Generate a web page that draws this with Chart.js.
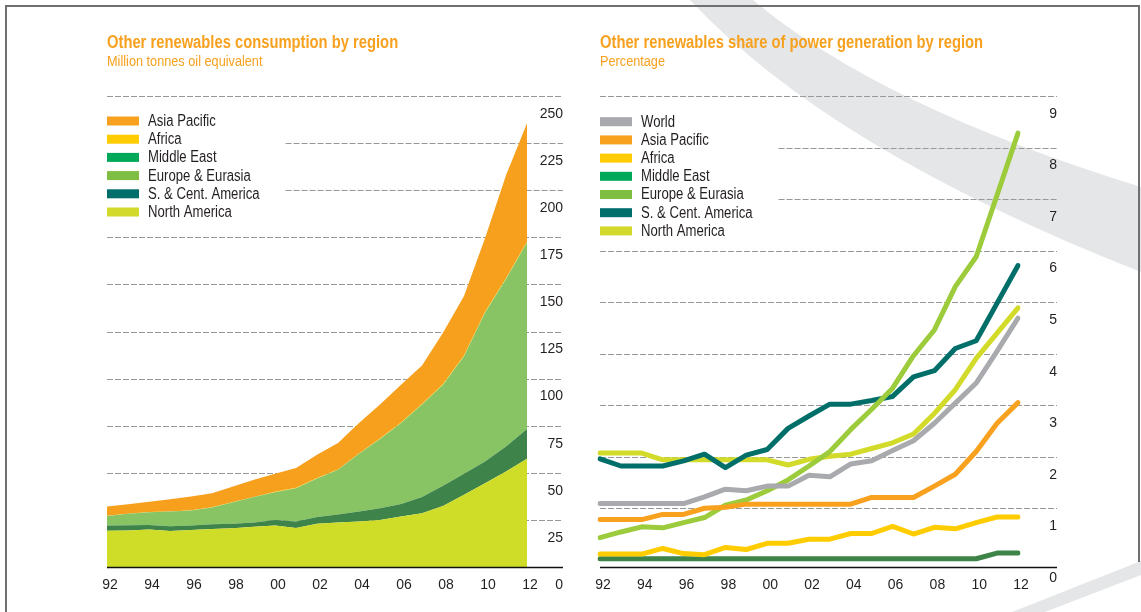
<!DOCTYPE html>
<html>
<head>
<meta charset="utf-8">
<script src="https://cdn.jsdelivr.net/npm/chart.js@4.4.1/dist/chart.umd.min.js"></script>
<style>
  html, body { margin: 0; padding: 0; background: #fff; }
  body { width: 1141px; height: 612px; position: relative; overflow: hidden;
         font-family: 'Liberation Sans', Arial, sans-serif; }
  #bg { position: absolute; left: 0; top: 0; }
  #leftChart { position: absolute; left: 0; top: 0; }
  #rightChart { position: absolute; left: 580px; top: 0; }
  .title, .sub { position: absolute; color: #F7A11F; white-space: nowrap;
                 transform: scaleX(0.82); transform-origin: 0 0; }
  .title { font-weight: bold; font-size: 18px; line-height: 18px; }
  .sub { font-size: 15.5px; line-height: 15.5px; }
</style>
</head>
<body>
<canvas id="bg" width="1141" height="612"></canvas>
<canvas id="leftChart" width="580" height="612"></canvas>
<canvas id="rightChart" width="561" height="612"></canvas>
<div class="title" style="left:107px; top:33px;">Other renewables consumption by region</div>
<div class="sub" style="left:107px; top:52.5px;">Million tonnes oil equivalent</div>
<div class="title" style="left:600px; top:33px;">Other renewables share of power generation by region</div>
<div class="sub" style="left:600px; top:52.5px;">Percentage</div>
<script>
const FONT = "'Liberation Sans', Arial, sans-serif";

const years = [1992, 1993, 1994, 1995, 1996, 1997, 1998, 1999, 2000, 2001, 2002,
               2003, 2004, 2005, 2006, 2007, 2008, 2009, 2010, 2011, 2012];

// consumption, million tonnes oil equivalent (stacked)
const consNorthAmerica = [19.3, 19.4, 19.9, 19.1, 19.6, 20.2, 20.6, 21.4, 22.0, 20.7, 22.9, 23.6, 24.1, 25.0, 26.8, 28.5, 32.4, 38.3, 44.5, 50.7, 57.4];
const consSCAmerica    = [2.7, 2.8, 2.4, 2.5, 2.4, 2.5, 2.4, 2.2, 3.0, 3.4, 3.7, 4.2, 5.3, 6.2, 6.7, 8.6, 10.7, 11.2, 11.5, 13.3, 15.8];
const consEurope       = [5.1, 6.0, 6.8, 7.8, 8.0, 8.9, 11.4, 13.5, 14.7, 17.7, 20.4, 23.8, 30.7, 36.7, 42.9, 49.1, 53.7, 62.4, 79.0, 88.7, 99.0];
const consMiddleEast   = [0, 0, 0, 0, 0, 0, 0, 0, 0, 0, 0, 0, 0, 0, 0, 0, 0, 0, 0, 0.1, 0.1];
const consAfrica       = [0.1, 0.1, 0.1, 0.1, 0.1, 0.1, 0.1, 0.1, 0.2, 0.2, 0.2, 0.2, 0.2, 0.3, 0.3, 0.3, 0.3, 0.3, 0.4, 0.4, 0.4];
const consAsiaPacific  = [4.9, 5.0, 5.4, 6.5, 7.3, 7.5, 8.2, 9.1, 9.6, 10.5, 12.4, 14.0, 16.1, 18.0, 20.0, 20.5, 27.2, 31.6, 39.1, 54.8, 62.9];
const consTicks = [0, 25, 50, 75, 100, 125, 150, 175, 200, 225, 250];

// share of power generation, percent
const shareWorld        = [1.09, 1.09, 1.09, 1.09, 1.09, 1.22, 1.37, 1.34, 1.43, 1.43, 1.64, 1.61, 1.86, 1.92, 2.12, 2.31, 2.65, 3.04, 3.43, 4.05, 4.69];
const shareAsiaPacific  = [0.78, 0.78, 0.78, 0.88, 0.88, 1.00, 1.02, 1.08, 1.08, 1.08, 1.08, 1.08, 1.08, 1.21, 1.21, 1.21, 1.43, 1.66, 2.10, 2.65, 3.05];
const shareAfrica       = [0.11, 0.11, 0.11, 0.22, 0.12, 0.10, 0.24, 0.20, 0.32, 0.32, 0.40, 0.40, 0.51, 0.51, 0.65, 0.50, 0.63, 0.60, 0.72, 0.83, 0.83];
const shareMiddleEast   = [0.02, 0.02, 0.02, 0.02, 0.02, 0.02, 0.02, 0.02, 0.02, 0.02, 0.02, 0.02, 0.02, 0.02, 0.02, 0.02, 0.02, 0.02, 0.02, 0.13, 0.13];
const shareEurope       = [0.43, 0.54, 0.64, 0.62, 0.72, 0.82, 1.06, 1.16, 1.34, 1.55, 1.82, 2.10, 2.53, 2.92, 3.33, 3.96, 4.46, 5.30, 5.88, 7.08, 8.28];
const shareSCAmerica    = [1.96, 1.82, 1.82, 1.82, 1.92, 2.05, 1.79, 2.03, 2.14, 2.55, 2.79, 3.02, 3.02, 3.09, 3.17, 3.55, 3.67, 4.10, 4.25, 4.98, 5.71];
const shareNorthAmerica = [2.07, 2.07, 2.07, 1.94, 1.94, 1.94, 1.94, 1.94, 1.94, 1.84, 1.95, 2.01, 2.05, 2.16, 2.27, 2.44, 2.84, 3.30, 3.91, 4.40, 4.89];
const shareTicks = [0, 1, 2, 3, 4, 5, 6, 7, 8, 9];

// background: frame and grey swooshes
(function drawBackground() {
    const c = document.getElementById('bg').getContext('2d');
    c.fillStyle = '#E5E6E7';
    c.beginPath();
    c.moveTo(690, 0);
    c.lineTo(753, 0);
    c.quadraticCurveTo(879, 106, 1141, 187);
    c.lineTo(1141, 272);
    c.quadraticCurveTo(830, 150, 690, 0);
    c.fill();
    c.beginPath();
    c.moveTo(1012, 612);
    c.lineTo(1141, 561);
    c.lineTo(1141, 575);
    c.lineTo(1045, 612);
    c.fill();
    c.strokeStyle = '#707070';
    c.lineWidth = 2;
    c.beginPath();
    c.moveTo(6, 612);
    c.lineTo(6, 6);
    c.lineTo(1139, 6);
    c.lineTo(1139, 562);
    c.stroke();
})();

const NARROW = 0.82;

// dashed grid, axis line and box legend
const panelPlugin = {
    id: 'panel',
    beforeDatasetsDraw(chart, args, o) {
        const {ctx, chartArea, scales: {y}} = chart;
        const items = chart.data.datasets.map(d => d.label);
        ctx.save();
        ctx.font = o.font;
        let textRight = 0;
        items.forEach(label => {
            textRight = Math.max(textRight, o.x + o.textGap + ctx.measureText(label).width * NARROW);
        });
        const legTop = o.y - o.step / 2;
        const legBottom = o.y + o.step * (items.length - 0.5);
        ctx.strokeStyle = '#999';
        ctx.lineWidth = 1;
        ctx.setLineDash([6, 2]);
        y.ticks.forEach(t => {
            if (t.value === 0) return;
            const py = Math.round(y.getPixelForValue(t.value)) + 0.5;
            const x0 = (py > legTop && py < legBottom) ? textRight + 26 : chartArea.left;
            ctx.beginPath();
            ctx.moveTo(x0, py);
            ctx.lineTo(y.right, py);
            ctx.stroke();
        });
        ctx.restore();
    },
    afterDatasetsDraw(chart, args, o) {
        const {ctx, chartArea, scales: {y}} = chart;
        ctx.save();
        ctx.strokeStyle = '#111';
        ctx.lineWidth = 1.5;
        ctx.beginPath();
        ctx.moveTo(chartArea.left, chartArea.bottom + 0.5);
        ctx.lineTo(y.right, chartArea.bottom + 0.5);
        ctx.stroke();

        let items = chart.data.datasets.map(d => ({label: d.label, color: d.legendColor}));
        if (o.reverse) items = items.reverse();
        ctx.font = o.font;
        ctx.textBaseline = 'middle';
        ctx.textAlign = 'left';
        items.forEach((it, i) => {
            const cy = o.y + i * o.step;
            ctx.fillStyle = it.color;
            ctx.fillRect(o.x, cy - 4.5, 32, 9);
            ctx.save();
            ctx.translate(o.x + o.textGap, cy + 0.5);
            ctx.scale(NARROW, 1);
            ctx.fillStyle = '#231F20';
            ctx.fillText(it.label, 0, 0);
            ctx.restore();
        });
        ctx.restore();
    }
};

function xAxis() {
    return {
        type: 'category',
        grid: {display: false, drawTicks: false},
        border: {display: false},
        ticks: {
            autoSkip: false, maxRotation: 0, padding: 10, labelOffset: 3,
            color: '#231F20', font: {family: FONT, size: 14},
            callback: (v, i) => years[i] % 2 === 0 ? String(years[i]).slice(2) : ''
        },
        afterFit: s => { s.height = 45; }
    };
}

function yAxis(min, max, ticks, width, pad) {
    return {
        position: 'right',
        min: min, max: max,
        grid: {display: false, drawTicks: false},
        border: {display: false},
        afterBuildTicks: s => { s.ticks = ticks.map(v => ({value: v})); },
        afterFit: s => { s.width = width; },
        ticks: {
            crossAlign: 'far', padding: pad, labelOffset: 18,
            color: '#231F20', font: {family: FONT, size: 14}
        }
    };
}

function area(label, data, fill, legendColor, fillMode) {
    return {
        label: label, data: data, backgroundColor: fill, borderColor: fill,
        borderWidth: 0, pointRadius: 0, tension: 0, fill: fillMode,
        legendColor: legendColor
    };
}

new Chart(document.getElementById('leftChart'), {
    type: 'line',
    data: {
        labels: years,
        datasets: [
            area('North America', consNorthAmerica, '#CFDC28', '#D3D92B', 'origin'),
            area('S. & Cent. America', consSCAmerica, '#3E844A', '#006F6B', '-1'),
            area('Europe & Eurasia', consEurope, '#88C463', '#7DBE43', '-1'),
            area('Middle East', consMiddleEast, '#00A859', '#00A859', '-1'),
            area('Africa', consAfrica, '#FFCC00', '#FFCC00', '-1'),
            area('Asia Pacific', consAsiaPacific, '#F7A01E', '#F7A11F', '-1')
        ]
    },
    options: {
        responsive: false,
        animation: false,
        layout: {padding: {left: 107, top: 96, right: 17, bottom: 0}},
        scales: {
            x: xAxis(),
            y: Object.assign(yAxis(0, 250, consTicks, 36, 13), {stacked: true})
        },
        plugins: {
            legend: {display: false},
            tooltip: {enabled: false},
            panel: {x: 107, y: 121, step: 18.2, textGap: 41, reverse: true, font: '16px ' + FONT}
        }
    },
    plugins: [panelPlugin]
});

function line(label, data, color, legendColor) {
    return {
        label: label, data: data, borderColor: color, backgroundColor: color,
        borderWidth: 5, pointRadius: 0, tension: 0, fill: false,
        borderCapStyle: 'round', borderJoinStyle: 'round',
        legendColor: legendColor
    };
}

new Chart(document.getElementById('rightChart'), {
    type: 'line',
    data: {
        labels: years,
        datasets: [
            line('World', shareWorld, '#A9AAAD', '#A7A9AC'),
            line('Asia Pacific', shareAsiaPacific, '#F7A11F', '#F7A11F'),
            line('Africa', shareAfrica, '#FFCC00', '#FFCC00'),
            line('Middle East', shareMiddleEast, '#3E8448', '#00A859'),
            line('Europe & Eurasia', shareEurope, '#9CCB3B', '#7DBE43'),
            line('S. & Cent. America', shareSCAmerica, '#006E69', '#006F6B'),
            line('North America', shareNorthAmerica, '#D2DB2A', '#D3D92B')
        ]
    },
    options: {
        responsive: false,
        animation: false,
        layout: {padding: {left: 20, top: 96, right: 84, bottom: 0}},
        scales: {
            x: xAxis(),
            y: yAxis(-0.14, 9, shareTicks, 39, 32)
        },
        plugins: {
            legend: {display: false},
            tooltip: {enabled: false},
            panel: {x: 20, y: 121.7, step: 18.2, textGap: 41, reverse: false, font: '16px ' + FONT}
        }
    },
    plugins: [panelPlugin]
});
</script>
</body>
</html>
